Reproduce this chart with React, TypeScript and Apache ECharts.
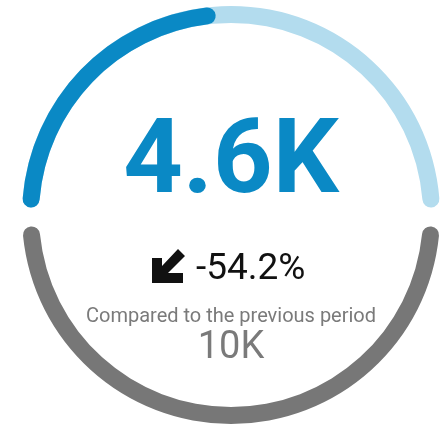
import React, { useEffect, useRef } from "react";
import * as echarts from "echarts";

const currentValue = [4600];
const previousValue = [10000];
const changePercent = [-54.2];
const compareLabel = ["Compared to the previous period"];

const fmtK = (v: number) => {
  const k = v / 1000;
  return (Math.round(k * 10) / 10).toString() + "K";
};

export default function App() {
  const ref = useRef<HTMLDivElement>(null);
  useEffect(() => {
    if (!ref.current) return;
    const chart = echarts.init(ref.current, undefined, { renderer: "svg" });
    const cx = 231;
    const cy = 215;
    const hidden = {
      pointer: { show: false },
      axisTick: { show: false },
      splitLine: { show: false },
      axisLabel: { show: false },
      title: { show: false },
    };
    chart.setOption({
      animation: false,
      series: [
        {
          type: "gauge",
          center: [cx, cy],
          radius: 209,
          startAngle: 175.4,
          endAngle: 4.6,
          min: 0,
          max: previousValue[0],
          axisLine: {
            roundCap: true,
            lineStyle: { width: 17, color: [[1, "#b3dcee"]] },
          },
          progress: {
            show: true,
            width: 17,
            roundCap: true,
            itemStyle: { color: "#0a89c5" },
          },
          ...hidden,
          detail: {
            show: true,
            offsetCenter: [0, -59],
            formatter: (v: number) => fmtK(v),
            color: "#0a89c5",
            fontSize: 104,
            fontWeight: "bold",
            fontFamily: "Roboto",
          },
          data: [{ value: currentValue[0] }],
        },
        {
          type: "gauge",
          center: [cx, cy],
          radius: 209,
          startAngle: -5.7,
          endAngle: -174.3,
          min: 0,
          max: previousValue[0],
          axisLine: {
            roundCap: true,
            lineStyle: { width: 17, color: [[1, "#777777"]] },
          },
          progress: { show: false },
          ...hidden,
          detail: {
            show: true,
            offsetCenter: [0, 130],
            formatter: (v: number) => fmtK(v),
            color: "#7a7a7a",
            fontSize: 38,
            fontWeight: "normal",
            fontFamily: "Roboto",
          },
          data: [{ value: previousValue[0] }],
        },
      ],
      graphic: [
        {
          type: "polygon",
          shape: {
            points: [
              [152, 283],
              [183, 283],
              [183, 273],
              [168, 273],
              [185, 256],
              [178, 249],
              [162, 266],
              [162, 258],
              [152, 258],
            ],
          },
          style: { fill: "#111111" },
        },
        {
          type: "text",
          x: 196,
          y: 266,
          style: {
            text: changePercent[0].toFixed(1) + "%",
            fontSize: 37,
            fontFamily: "Roboto",
            fill: "#111111",
            verticalAlign: "middle",
          },
        },
        {
          type: "text",
          x: cx,
          y: 315,
          style: {
            text: compareLabel[0],
            fontSize: 20,
            fontFamily: "Roboto",
            fill: "#7a7a7a",
            align: "center",
            verticalAlign: "middle",
          },
        },
      ],
    });
    return () => chart.dispose();
  }, []);
  return (
    <div
      ref={ref}
      style={{ position: "fixed", left: 0, top: 0, width: 444, height: 427 }}
    />
  );
}
